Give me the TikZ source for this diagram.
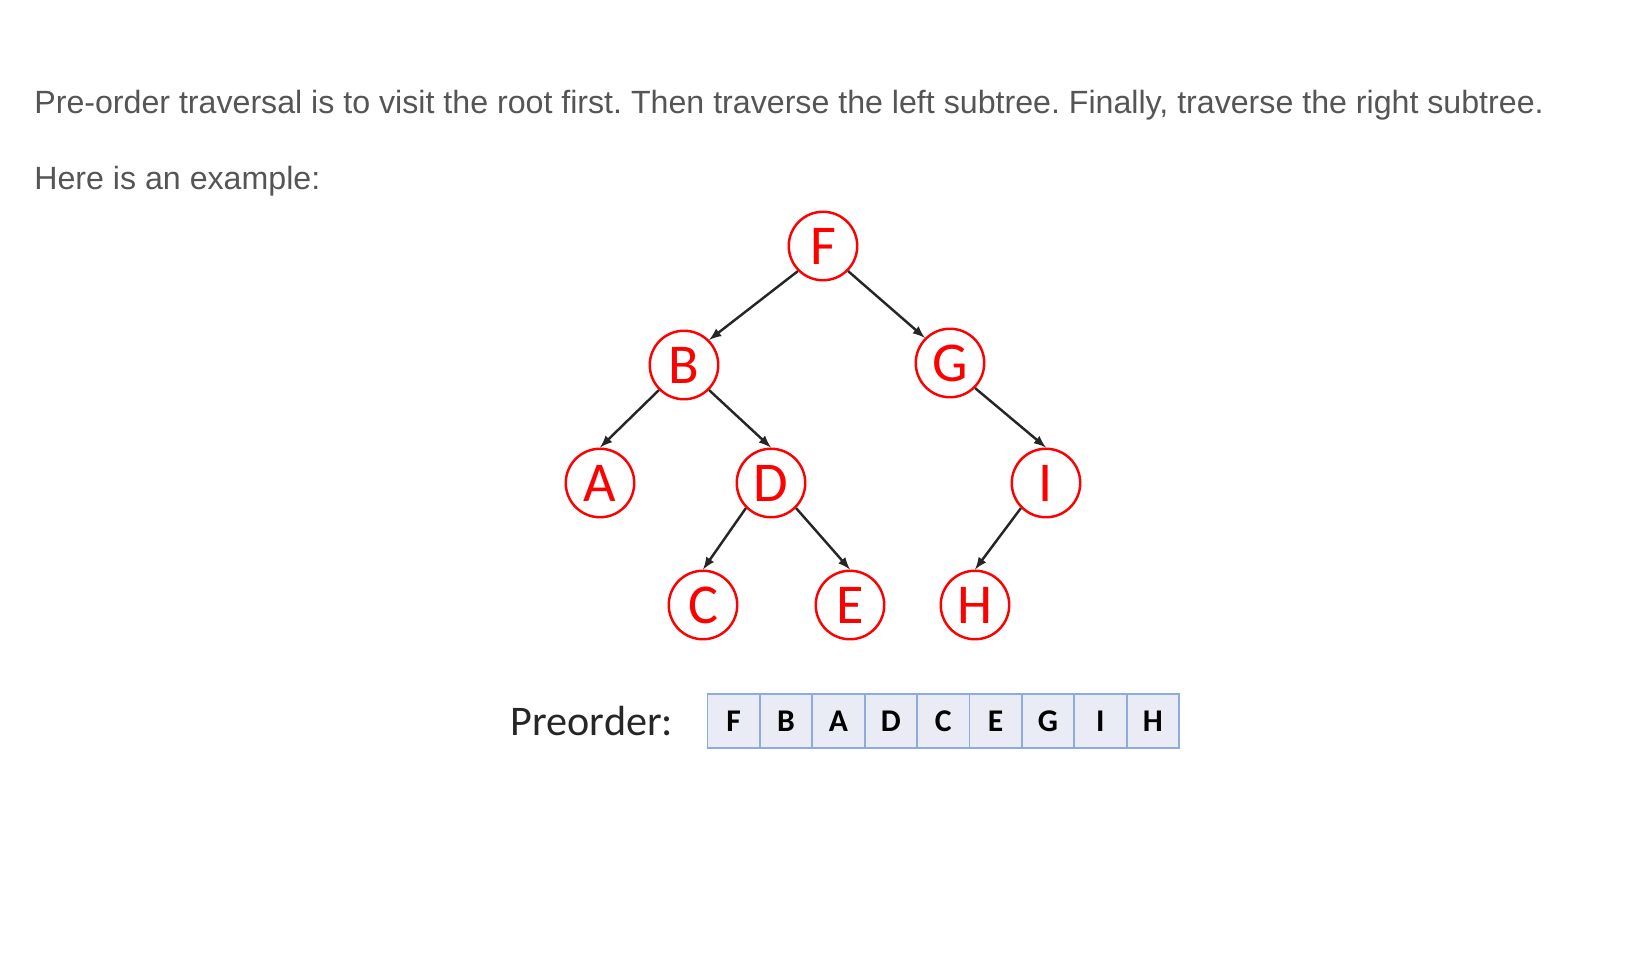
\documentclass[tikz,border=0pt]{standalone}
\usepackage{fontspec}
\setmainfont{Liberation Sans}
\newfontfamily\calibri{Carlito}
\usepackage{xcolor}
\usetikzlibrary{positioning}

\definecolor{textgray}{HTML}{555555}
\definecolor{cellfill}{HTML}{E9EBF5}
\definecolor{cellline}{HTML}{8FAADC}

\frenchspacing
\begin{document}
\begin{tikzpicture}[x=0.02cm, y=-0.02cm, every path/.style={>=latex},
	tnode/.style={circle,draw=red,line width=1.4pt,text=red,minimum size=1.37cm,inner sep=0pt,font=\calibri\fontsize{32}{32}\selectfont},
	edge/.style={->,line width=1.4pt,black!85},
	cell/.style={rectangle,draw=cellline,fill=cellfill,line width=1pt,minimum width=1.048cm,minimum height=1.08cm,inner sep=0pt,outer sep=0pt,font=\calibri\bfseries\fontsize{18}{18}\selectfont}]
	\useasboundingbox (0,0) rectangle (1636,964);
	\node (intro) [anchor=base west,text=textgray,font=\fontsize{18.3}{22}\selectfont,inner sep=0pt] at (34,113) {Pre-order traversal is to visit the root first. Then traverse the left subtree. Finally, traverse the right subtree.};
	\node (example) [anchor=base west,text=textgray,font=\fontsize{18.3}{22}\selectfont,inner sep=0pt] at (34,189) {Here is an example:};
	% tree
	\node (F) at (823,246) [tnode] {F};
	\node (B) at (684,365) [tnode] {B};
	\node (G) at (950,363) [tnode] {G};
	\node (A) at (600,483) [tnode] {A};
	\node (D) at (771,483) [tnode] {D};
	\node (I) at (1046,483) [tnode] {I};
	\node (C) at (703,605) [tnode] {C};
	\node (E) at (850,605) [tnode] {E};
	\node (H) at (975,605) [tnode] {H};
	\draw[edge] (F.south west) to (B.north east);
	\draw[edge] (F.south east) to (G.north west);
	\draw[edge] (B.south west) to (A.north);
	\draw[edge] (B.south east) to (D.north);
	\draw[edge] (D.south west) to (C.north);
	\draw[edge] (D.south east) to (E.north);
	\draw[edge] (G.south east) to (I.north);
	\draw[edge] (I.south west) to (H.north);
	% preorder row
	\node (p1) at (733.7,721) [cell] {F};
	\node (p2) [cell,right=0cm of p1] {B};
	\node (p3) [cell,right=0cm of p2] {A};
	\node (p4) [cell,right=0cm of p3] {D};
	\node (p5) [cell,right=0cm of p4] {C};
	\node (p6) [cell,right=0cm of p5] {E};
	\node (p7) [cell,right=0cm of p6] {G};
	\node (p8) [cell,right=0cm of p7] {I};
	\node (p9) [cell,right=0cm of p8] {H};
	\node (label) [left=0.68cm of p1,inner sep=0pt,font=\calibri\fontsize{24}{24}\selectfont,text=black!85] {Preorder:};
\end{tikzpicture}
\end{document}
